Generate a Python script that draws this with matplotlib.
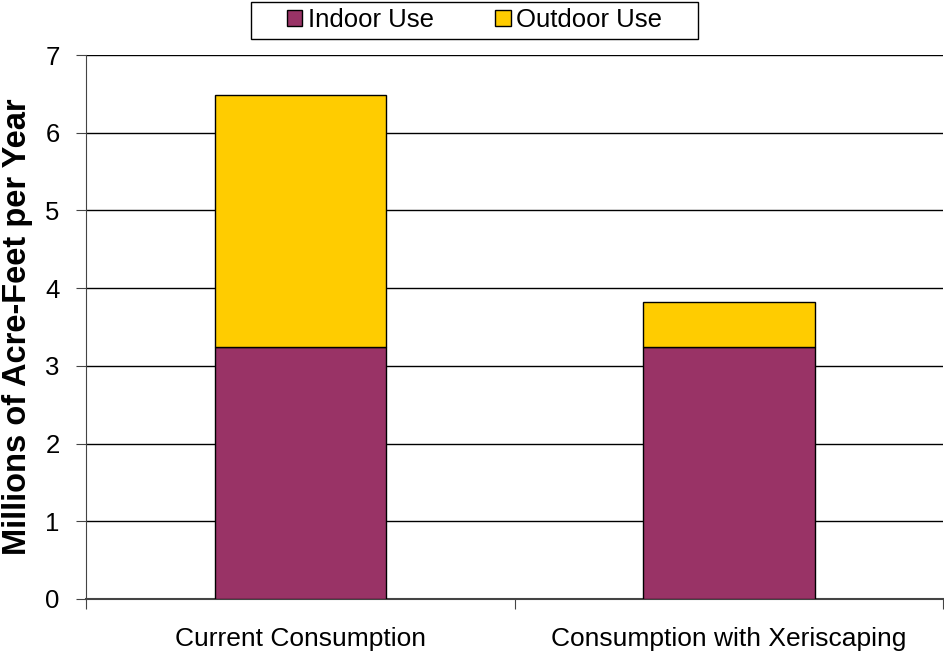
import numpy as np
import matplotlib.pyplot as plt
from matplotlib.patches import Rectangle

plt.rcParams['font.family'] = ['Liberation Sans', 'DejaVu Sans']

# Datos
categories = ['Current Consumption', 'Consumption with Xeriscaping']
indoor_use = [3.24, 3.24]
outdoor_use = [3.25, 0.58]
yticks = [0, 1, 2, 3, 4, 5, 6, 7]

indoor_color = '#993366'
outdoor_color = '#FFCC00'

fig = plt.figure(figsize=(9.45, 6.56), dpi=100)
ax = fig.add_axes([0.091, 0.087, 0.907, 0.829])

x = np.arange(len(categories))
b1 = ax.bar(x, indoor_use, width=0.4, color=indoor_color, edgecolor='black',
            linewidth=1, label='Indoor Use', zorder=3)
b2 = ax.bar(x, outdoor_use, width=0.4, bottom=indoor_use, color=outdoor_color,
            edgecolor='black', linewidth=1, label='Outdoor Use', zorder=3)

ax.set_xlim(-0.5, 1.5)
ax.set_ylim(0, 7)
ax.set_yticks(yticks)
ax.set_yticklabels([str(t) for t in yticks], fontsize=18.5)
ax.yaxis.grid(True, color='black', linewidth=1, zorder=0)

# ticks del eje x entre categorias
ax.set_xticks([-0.5, 0.5, 1.5])
ax.set_xticklabels([])
ax.set_xticks(x, minor=True)
ax.set_xticklabels(categories, minor=True, fontsize=19)
ax.tick_params(axis='x', which='minor', length=0, pad=20)
ax.tick_params(axis='x', which='major', length=7, direction='out', color='#444444')
ax.tick_params(axis='y', length=7, direction='out', pad=12, color='#444444')

for s in ['top', 'right']:
    ax.spines[s].set_visible(False)
ax.spines['left'].set_color('#444444')
ax.spines['bottom'].set_color('#444444')
ax.spines['bottom'].set_linewidth(1.5)

ax.set_ylabel('Millions of Acre-Feet per Year', fontsize=23.5, fontweight='bold', labelpad=9)

leg = fig.legend(handles=[b1, b2], loc='center', bbox_to_anchor=(0.502, 0.969), ncol=2,
                 fontsize=18.5, frameon=False, handlelength=0.6, handleheight=0.6,
                 handletextpad=0.2, columnspacing=2.4, borderpad=0.25)

# marco de la leyenda, con mas margen a los lados
fig.canvas.draw()
bb = leg.get_window_extent().transformed(fig.transFigure.inverted())
padx = 30 / fig.bbox.width
fig.add_artist(Rectangle((bb.x0 - padx, bb.y0), bb.width + 2 * padx, bb.height,
                         transform=fig.transFigure, facecolor='white',
                         edgecolor='black', linewidth=1, zorder=0))

fig.savefig('out.png', dpi=100)
